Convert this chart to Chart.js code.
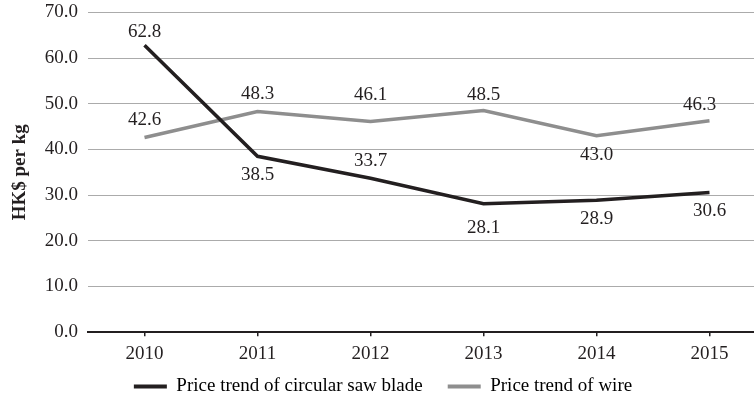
<!DOCTYPE html>
<html lang="en">
<head>
<meta charset="utf-8">
<title>Price trend</title>
<script src="https://cdn.jsdelivr.net/npm/chart.js"></script>
<style>
  html, body { margin: 0; padding: 0; background: #fff; overflow: hidden; }
  #wrap { width: 754px; height: 401px; overflow: hidden; }
  #box { width: 766px; height: 415px; margin-top: -9px; }
</style>
</head>
<body>
<div id="wrap"><div id="box"><canvas id="myChart"></canvas></div></div>
<script>
// data
const years = ['2010', '2011', '2012', '2013', '2014', '2015'];
const sawBlade = [62.8, 38.5, 33.7, 28.1, 28.9, 30.6];
const wire = [42.6, 48.3, 46.1, 48.5, 43.0, 46.3];

// value label nudges in px from each point (negative dy = above)
const sawBladeLabelDy = [-13, 19, -17, 24, 19, 19];
const wireLabelDy = [-18, -18, -27, -16, 19, -16];
const wireLabelDx = [0, 0, 0, 0, 0, -10];

const serif = '"Liberation Serif", "Times New Roman", serif';
Chart.defaults.font.family = serif;
Chart.defaults.font.size = 19;
Chart.defaults.color = '#231f20';

// draws the numbers next to each point
const valueLabels = {
    id: 'valueLabels',
    afterDatasetsDraw(chart) {
        const ctx = chart.ctx;
        ctx.save();
        ctx.font = '19px ' + serif;
        ctx.fillStyle = '#231f20';
        ctx.textAlign = 'center';
        ctx.textBaseline = 'middle';
        chart.data.datasets.forEach((ds, i) => {
            const meta = chart.getDatasetMeta(i);
            meta.data.forEach((pt, j) => {
                const dx = ds.labelDx ? ds.labelDx[j] : 0;
                ctx.fillText(ds.data[j].toFixed(1), pt.x + dx, pt.y + ds.labelDy[j]);
            });
        });
        ctx.restore();
    }
};

const ctx = document.getElementById('myChart').getContext('2d');
const myChart = new Chart(ctx, {
    type: 'line',
    data: {
        labels: years,
        datasets: [{
            label: 'Price trend of circular saw blade',
            data: sawBlade,
            labelDy: sawBladeLabelDy,
            borderColor: '#231f20',
            backgroundColor: '#231f20',
            borderWidth: 3.5,
            pointRadius: 0,
            tension: 0
        }, {
            label: 'Price trend of wire',
            data: wire,
            labelDy: wireLabelDy,
            labelDx: wireLabelDx,
            borderColor: '#8e8e8e',
            backgroundColor: '#8e8e8e',
            borderWidth: 3.5,
            pointRadius: 0,
            tension: 0
        }]
    },
    options: {
        responsive: true,
        maintainAspectRatio: false,
        animation: false,
        layout: { padding: { top: 0, left: 0, right: 0, bottom: 0 } },
        plugins: {
            tooltip: { enabled: false },
            legend: {
                position: 'bottom',
                labels: {
                    boxWidth: 33,
                    boxHeight: 4,
                    padding: 6,
                    font: { size: 19, family: serif },
                    generateLabels(chart) {
                        // the first item gets some trailing room, the gap between items is wider than the padding
                        return chart.data.datasets.map((ds, i) => ({
                            text: i === 0 ? ds.label + '    ' : ds.label,
                            fillStyle: ds.borderColor,
                            strokeStyle: ds.borderColor,
                            lineWidth: 0,
                            hidden: false,
                            datasetIndex: i
                        }));
                    }
                }
            }
        },
        scales: {
            x: {
                offset: true,
                grid: {
                    offset: false,
                    drawOnChartArea: false,
                    drawTicks: true,
                    tickLength: 4,
                    color: '#231f20',
                    lineWidth: 1.5
                },
                border: { display: true, color: '#231f20', width: 2 },
                ticks: { padding: 6, color: '#231f20', maxRotation: 0 }
            },
            y: {
                min: 0,
                max: 70,
                ticks: {
                    stepSize: 10,
                    padding: 10,
                    color: '#231f20',
                    callback: v => v.toFixed(1)
                },
                grid: { color: '#ababab', lineWidth: 1, drawTicks: false },
                border: { display: false },
                title: {
                    display: true,
                    text: 'HK$ per kg',
                    font: { size: 19, weight: 'bold', family: serif },
                    color: '#231f20',
                    padding: { top: 9, bottom: 0 }
                },
                afterFit(scale) { scale.width = 88; }
            }
        }
    },
    plugins: [valueLabels]
});
</script>
</body>
</html>
